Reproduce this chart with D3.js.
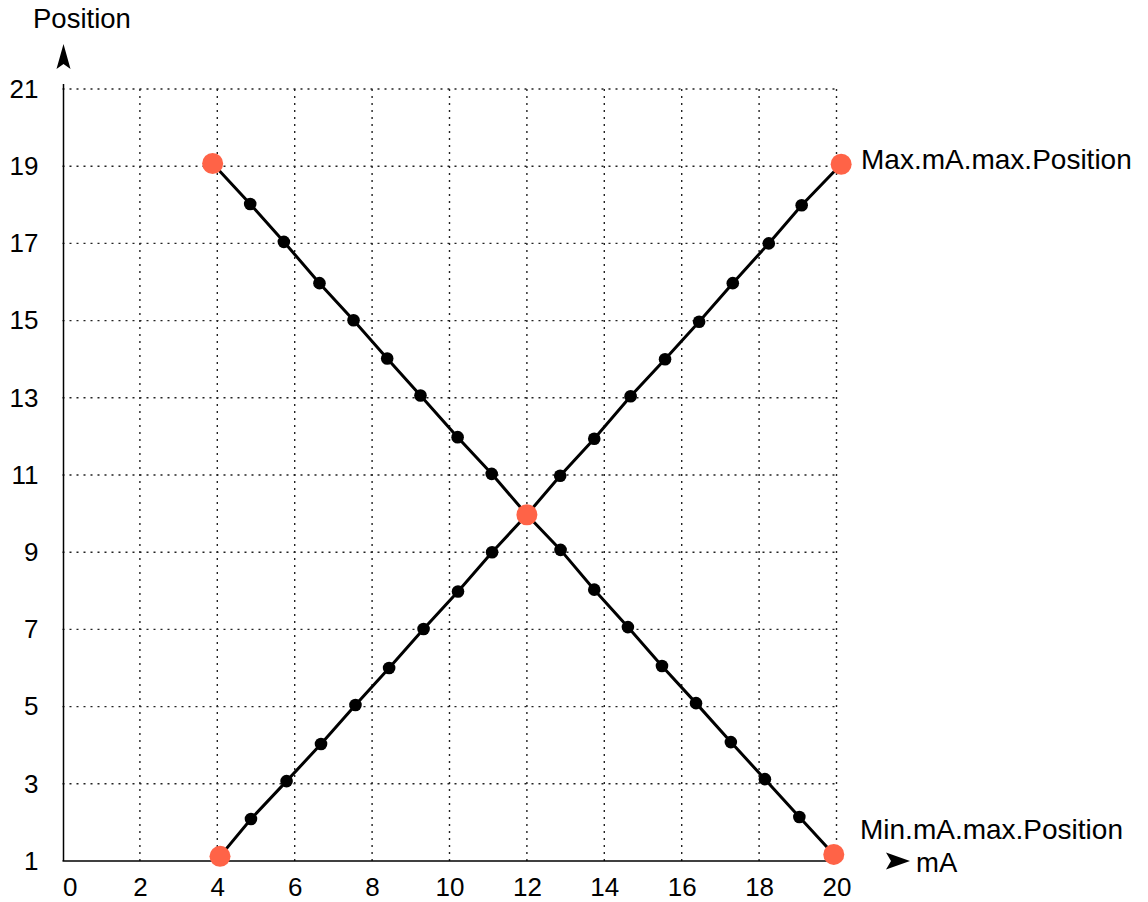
<!DOCTYPE html>
<html>
<head>
<meta charset="utf-8">
<script src="https://cdn.jsdelivr.net/npm/d3@7"></script>
<style>
  html, body { margin: 0; padding: 0; background: #fff; }
  text { font-family: "Liberation Sans", Arial, Helvetica, sans-serif; fill: #000; }
</style>
</head>
<body>
<svg id="chart" width="1148" height="902"></svg>
<script>
// ---- data ----
const xTicks = [0, 2, 4, 6, 8, 10, 12, 14, 16, 18, 20];
const yTicks = [1, 3, 5, 7, 9, 11, 13, 15, 17, 19, 21];

// rising line: mA vs Position
const risingMA  = [4.07, 4.87, 5.79, 6.68, 7.57, 8.44, 9.33, 10.22, 11.1, 12.0, 12.86, 13.74, 14.68, 15.57, 16.45, 17.32, 18.25, 19.1, 20.12];
const risingPos = [1.12, 2.09, 3.07, 4.03, 5.04, 6.0, 7.01, 7.98, 9.0, 9.97, 10.98, 11.94, 13.04, 14.0, 14.97, 15.97, 17.0, 17.99, 19.05];

// falling line: mA vs Position
const fallingMA  = [3.88, 4.85, 5.72, 6.64, 7.52, 8.39, 9.25, 10.21, 11.09, 12.0, 12.87, 13.74, 14.61, 15.49, 16.37, 17.27, 18.15, 19.04, 19.93];
const fallingPos = [19.07, 18.02, 17.04, 15.97, 15.01, 14.02, 13.06, 11.98, 11.03, 9.97, 9.06, 8.03, 7.06, 6.05, 5.09, 4.08, 3.12, 2.14, 1.17];

// highlighted (orange) points
const keyMA  = [4.07, 3.88, 20.12, 19.93, 12.0];
const keyPos = [1.12, 19.07, 19.05, 1.17, 9.97];

const maxLabel = "Max.mA.max.Position";
const minLabel = "Min.mA.max.Position";
const xTitle = "mA";
const yTitle = "Position";

// ---- layout ----
const svg = d3.select("#chart");
const x = d3.scaleLinear().domain([0, 20]).range([62.5, 836.5]);
const y = d3.scaleLinear().domain([1, 21]).range([861, 89]);

// grid
const grid = svg.append("g").attr("stroke", "#222").attr("stroke-width", 1.4)
  .attr("stroke-dasharray", "2,5");
grid.selectAll("line.v").data(xTicks.filter(d => d > 0)).join("line")
  .attr("class", "v")
  .attr("x1", d => x(d)).attr("x2", d => x(d))
  .attr("y1", y(1)).attr("y2", y(21));
grid.selectAll("line.h").data(yTicks.filter(d => d > 1)).join("line")
  .attr("class", "h")
  .attr("x1", x(0)).attr("x2", x(20))
  .attr("y1", d => y(d)).attr("y2", d => y(d));

// axes lines
svg.append("line").attr("x1", x(0) + 1).attr("x2", x(0) + 1)
  .attr("y1", y(1)).attr("y2", y(21) - 5)
  .attr("stroke", "#000").attr("stroke-width", 1.5);
svg.append("line").attr("x1", x(0)).attr("x2", x(20) + 1)
  .attr("y1", y(1)).attr("y2", y(1))
  .attr("stroke", "#000").attr("stroke-width", 1.5);

// axis tick labels
const yAxis = svg.append("g").attr("transform", `translate(${x(0) + 1},0)`)
  .call(d3.axisLeft(y).tickValues(yTicks).tickSize(0).tickPadding(25).tickFormat(d3.format("d")));
yAxis.select(".domain").remove();
yAxis.selectAll("text").style("font-size", "26px").style("font-family", "'Liberation Sans', Arial, sans-serif").attr("fill", "#000");

const xAxis = svg.append("g").attr("transform", `translate(0,${y(1)})`)
  .call(d3.axisBottom(x).tickValues(xTicks).tickSize(0).tickPadding(17).tickFormat(d3.format("d")));
xAxis.select(".domain").remove();
xAxis.selectAll("text").style("font-size", "26px").style("font-family", "'Liberation Sans', Arial, sans-serif").attr("fill", "#000")
  .attr("text-anchor", d => d === 0 ? "start" : "middle");

// axis arrows
svg.append("path")
  .attr("d", `M${x(0) + 1},44 L${x(0) + 8},69 L${x(0) + 1},64 L${x(0) - 6},69 Z`)
  .attr("fill", "#000");
svg.append("path")
  .attr("d", `M910,${y(1)} L886,${y(1) - 8.5} L891,${y(1)} L886,${y(1) + 8.5} Z`)
  .attr("fill", "#000");

// titles
svg.append("text").attr("x", 33).attr("y", 28).style("font-size", "27.5px").text(yTitle);
svg.append("text").attr("x", 916).attr("y", 872).style("font-size", "27.5px").text(xTitle);
svg.append("text").attr("x", 861).attr("y", 169).style("font-size", "28px").text(maxLabel);
svg.append("text").attr("x", 860).attr("y", 839).style("font-size", "28px").text(minLabel);

// lines
const line = d3.line().x(d => x(d[0])).y(d => y(d[1]));
const rising = d3.zip(risingMA, risingPos);
const falling = d3.zip(fallingMA, fallingPos);
[rising, falling].forEach(data => {
  svg.append("path").datum(data).attr("d", line)
    .attr("fill", "none").attr("stroke", "#000").attr("stroke-width", 3);
  svg.append("g").selectAll("circle").data(data.slice(1, -1).filter((d, i) => i !== 8)).join("circle")
    .attr("cx", d => x(d[0])).attr("cy", d => y(d[1])).attr("r", 6.3).attr("fill", "#000");
});

// key points
svg.append("g").selectAll("circle").data(d3.zip(keyMA, keyPos)).join("circle")
  .attr("cx", d => x(d[0])).attr("cy", d => y(d[1])).attr("r", 10.5).attr("fill", "#FF6347");
</script>
</body>
</html>
